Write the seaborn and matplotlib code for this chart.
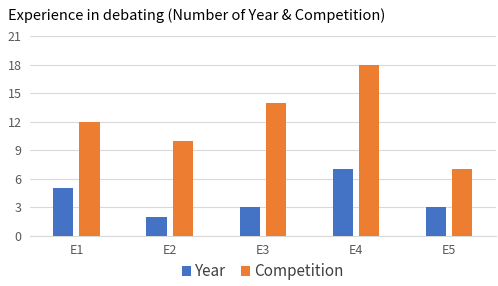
import pandas as pd
import matplotlib.pyplot as plt
import seaborn as sns

# chart data
experts = ["E1", "E2", "E3", "E4", "E5"]
years = [5, 2, 3, 7, 3]
competitions = [12, 10, 14, 18, 7]
y_ticks = [0, 3, 6, 9, 12, 15, 18, 21]

df = pd.DataFrame({"Expert": experts, "Year": years, "Competition": competitions})
df_long = df.melt(id_vars="Expert", var_name="Series", value_name="Value")

sns.set_style("white")
plt.rcParams['font.family'] = ['Noto Sans CJK SC', 'DejaVu Sans']

fig = plt.figure(figsize=(4.98, 2.86), dpi=100)
ax = fig.add_axes([0.06, 0.175, 0.935, 0.699])

sns.barplot(data=df_long, x="Expert", y="Value", hue="Series",
            palette=["#4472C4", "#ED7D31"], width=0.56, gap=0.23,
            saturation=1, linewidth=0, ax=ax, zorder=3)

ax.set_ylim(0, 21)
ax.set_yticks(y_ticks)
ax.yaxis.grid(True, color="#D9D9D9", linewidth=0.8, zorder=0)
ax.set_axisbelow(True)
for s in ["top", "right", "left"]:
    ax.spines[s].set_visible(False)
ax.spines["bottom"].set_color("#D9D9D9")
ax.tick_params(axis="both", length=0, labelsize=9, colors="#595959", pad=6)
ax.set_xlabel("")
ax.set_ylabel("")

fig.text(0.016, 0.945, "Experience in debating (Number of Year & Competition)",
         fontsize=10.5, color="#000000", va="center", ha="left", fontweight="medium")

ax.legend(loc="center", bbox_to_anchor=(0.5, -0.18), ncol=2, frameon=False,
          fontsize=11, handlelength=0.6, handleheight=0.6, handletextpad=0.25,
          columnspacing=1.0, labelcolor="#404040")

fig.savefig("out.png", dpi=100)
